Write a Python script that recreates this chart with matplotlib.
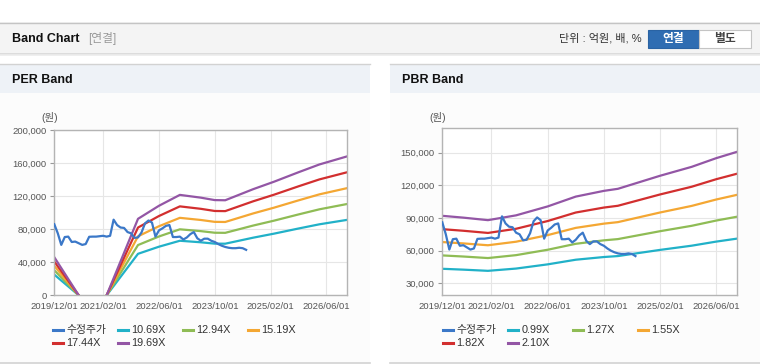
import numpy as np
import matplotlib.pyplot as plt
from matplotlib.patches import Rectangle
from matplotlib.lines import Line2D

plt.rcParams['font.family'] = ['Liberation Sans', 'Noto Sans CJK KR']

W, H = 760, 364

# x축은 2019/12 = 0 기준 월 인덱스
date_ticks = [0, 14, 30, 46, 62, 78]
date_labels = ['2019/12/01', '2021/02/01', '2022/06/01', '2023/10/01', '2025/02/01', '2026/06/01']

# 수정주가 (월별, 2019/12 ~ 2024/07)
price = [86000, 75000, 61000, 70500, 71000, 64500, 65000, 63000, 61000, 62000,
         70800, 71000, 71000, 71500, 72000, 71000, 72000, 91500, 85000, 82000,
         81500, 76500, 75000, 69500, 70000, 76000, 87000, 90500, 88000, 71000,
         78500, 81000, 84000, 85000, 70500, 70500, 71000, 67500, 70000, 74000,
         76500, 69000, 66000, 68500, 68500, 66000, 64500, 62000, 60000, 58500,
         57500, 57000, 57000, 57500, 57000, 55000]

# PER 밴드
per_x = [0, 7, 8, 15, 24, 30, 36, 42, 46, 49, 57, 63, 70, 76, 84]
per_labels = ['10.69X', '12.94X', '15.19X', '17.44X', '19.69X']
per_1069 = [25000, 0, np.nan, 0, 50200, 58800, 66000, 64140, 62500, 62430, 69700, 74600, 80800, 85900, 91300]
per_1294 = [30280, 0, np.nan, 0, 60800, 71170, 79840, 77640, 75700, 75570, 84370, 90320, 97830, 104040, 110510]
per_1519 = [35540, 0, np.nan, 0, 71390, 83550, 93720, 91140, 88860, 88710, 99040, 106030, 114840, 122130, 129720]
per_1744 = [40810, 0, np.nan, 0, 81970, 95920, 107600, 104640, 102020, 101850, 113710, 121730, 131850, 140220, 148940]
per_1969 = [46070, 0, np.nan, 0, 92540, 108300, 121490, 118140, 115190, 114990, 128380, 137440, 148860, 158310, 168150]

# PBR 밴드
pbr_x = [0, 6, 13, 21, 30, 38, 46, 50, 62, 71, 78, 84]
pbr_labels = ['0.99X', '1.27X', '1.55X', '1.82X', '2.10X']
pbr_099 = [43360, 42570, 41480, 43560, 47420, 51680, 54150, 55040, 60690, 64550, 68310, 71080]
pbr_127 = [55630, 54610, 53210, 55880, 60830, 66290, 69470, 70610, 77850, 82800, 87630, 91190]
pbr_155 = [67890, 66650, 64950, 68200, 74250, 80910, 84790, 86180, 95020, 101060, 106950, 111290]
pbr_182 = [79720, 78260, 76260, 80080, 87180, 95000, 99550, 101190, 111570, 118660, 125580, 130680]
pbr_210 = [91980, 90300, 87990, 92400, 100590, 109620, 114870, 116760, 128730, 136920, 144900, 150780]

price_color = '#3b78c8'
band_colors = ['#21b1c8', '#8fbc55', '#f4a733', '#d22f2f', '#9356a5']


def fx(x):
    return x / W


def fy(y):
    return 1 - y / H


def rect(fig, x0, y0, x1, y1, z=-2, **kw):
    fig.add_artist(Rectangle((fx(x0), fy(y1)), (x1 - x0) / W, (y1 - y0) / H,
                             transform=fig.transFigure, zorder=z, **kw))


def hline(fig, x0, x1, y, color, lw=1):
    fig.add_artist(Line2D([fx(x0), fx(x1)], [fy(y), fy(y)], transform=fig.transFigure,
                          color=color, lw=lw, zorder=-1))


fig = plt.figure(figsize=(7.6, 3.64), dpi=100)
fig.patch.set_facecolor('white')

# 상단 헤더
rect(fig, 0, 22, 760, 53, facecolor='#f4f4f4', edgecolor='none')
hline(fig, 0, 760, 22.5, '#c4c4c4')
hline(fig, 0, 760, 53.5, '#d6d6d6', lw=1.2)
hline(fig, 0, 760, 55, '#ececec', lw=1.2)
fig.text(fx(12), fy(38.7), 'Band Chart', fontsize=9, fontweight='bold', va='center', color='#111')
fig.text(fx(88), fy(38.7), '[연결]', fontsize=8.5, va='center', color='#999999')
fig.text(fx(642), fy(38.7), '단위 : 억원, 배, %', fontsize=8, va='center', ha='right', color='#333')
rect(fig, 648, 30, 699, 48, z=1, facecolor='#2f6db2', edgecolor='#2a63a3', lw=0.8)
rect(fig, 699, 30, 750.5, 48, z=1, facecolor='white', edgecolor='#c4c4c4', lw=0.8)
fig.text(fx(673.5), fy(39), '연결', fontsize=8.5, fontweight='bold', ha='center', va='center', color='white')
fig.text(fx(724.7), fy(39), '별도', fontsize=8.5, fontweight='bold', ha='center', va='center', color='#444')

# 패널 배경
for px0, px1, title in [(0, 370, 'PER Band'), (390, 760, 'PBR Band')]:
    rect(fig, px0, 93, px1, 363, facecolor='#fcfcfc', edgecolor='none')
    rect(fig, px0, 64, px1, 93, facecolor='#eef2f7', edgecolor='none')
    hline(fig, px0, px1, 64.3, '#d2d2d2')
    hline(fig, px0, px1, 363, '#d2d2d2', lw=1.2)
    fig.text(fx(px0 + 12), fy(80), title, fontsize=9, fontweight='bold', va='center', color='#111')


def draw_chart(ax, bx, bands, ylim, yticks):
    ax.set_facecolor('white')
    for vals, c in zip(bands, band_colors):
        ax.plot(bx, vals, color=c, lw=1.6, zorder=2)
    ax.plot(range(len(price)), price, color=price_color, lw=1.6, zorder=3)
    ax.set_xlim(0, 84)
    ax.set_ylim(*ylim)
    ax.set_xticks(date_ticks)
    ax.set_xticklabels(date_labels)
    ax.set_yticks(yticks)
    ax.set_yticklabels([f'{v:,}' for v in yticks])
    ax.grid(True, color='#e6e6e6', lw=0.8)
    ax.set_axisbelow(True)
    for s in ax.spines.values():
        s.set_color('#b4b4b4')
        s.set_linewidth(1)
    ax.tick_params(axis='y', length=3, color='#999', pad=2.5, labelsize=6.8, labelcolor='#555')
    ax.tick_params(axis='x', length=0, pad=5, labelsize=6.8, labelcolor='#555')


ax1 = fig.add_axes([fx(54.3), fy(295.3), 293 / W, 165.3 / H])
draw_chart(ax1, per_x, [per_1069, per_1294, per_1519, per_1744, per_1969],
           (0, 200000), [0, 40000, 80000, 120000, 160000, 200000])

ax2 = fig.add_axes([fx(442.3), fy(295), 295 / W, 166.7 / H])
draw_chart(ax2, pbr_x, [pbr_099, pbr_127, pbr_155, pbr_182, pbr_210],
           (19300, 172300), [30000, 60000, 90000, 120000, 150000])

fig.text(fx(50), fy(118), '(원)', fontsize=7.5, ha='center', va='center', color='#555')
fig.text(fx(437.5), fy(118), '(원)', fontsize=7.5, ha='center', va='center', color='#555')

# 범례
for base, labels in [(52.7, per_labels), (442.7, pbr_labels)]:
    names = ['수정주가'] + labels
    colors = [price_color] + band_colors
    for i, (name, c) in enumerate(zip(names, colors)):
        row, col = divmod(i, 4)
        x0 = base + col * 65
        y0 = 330.3 + row * 13
        fig.add_artist(Line2D([fx(x0), fx(x0 + 10.5)], [fy(y0), fy(y0)],
                              transform=fig.transFigure, color=c, lw=2.2))
        fig.text(fx(x0 + 13.5), fy(y0), name, fontsize=7.8, va='center', color='#333')

fig.savefig('out.png', dpi=100)
